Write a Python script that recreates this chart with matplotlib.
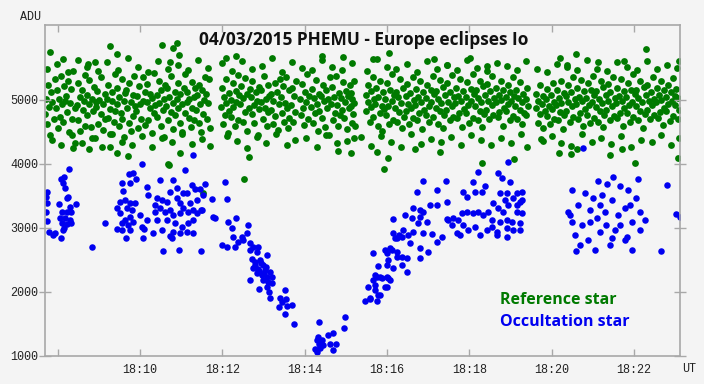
import matplotlib
matplotlib.use("Agg")
from matplotlib import pyplot as plt

# time in minutes after 18:00 UT, flux in ADU
ref_t = [
    7.70, 7.72, 7.74, 7.76, 7.79, 7.81, 7.84, 7.87, 7.90, 7.93,
    7.96, 7.98, 8.01, 8.03, 8.06, 8.08, 8.11, 8.13, 8.16, 8.18,
    8.21, 8.23, 8.25, 8.28, 8.30, 8.33, 8.35, 8.38, 8.41, 8.43,
    8.46, 8.48, 8.50, 8.53, 8.55, 8.58, 8.61, 8.63, 8.65, 8.67,
    8.70, 8.72, 8.75, 8.77, 8.80, 8.82, 8.85, 8.87, 8.90, 8.92,
    8.94, 8.96, 8.99, 9.01, 9.04, 9.06, 9.09, 9.11, 9.14, 9.16,
    9.19, 9.21, 9.23, 9.26, 9.28, 9.31, 9.33, 9.36, 9.38, 9.40,
    9.43, 9.45, 9.48, 9.50, 9.53, 9.55, 9.57, 9.60, 9.62, 9.64,
    9.67, 9.69, 9.72, 9.74, 9.77, 9.79, 9.82, 9.84, 9.86, 9.88,
    9.91, 9.93, 9.96, 9.98, 10.01, 10.03, 10.06, 10.08, 10.11, 10.13,
    10.16, 10.18, 10.20, 10.23, 10.25, 10.28, 10.30, 10.33, 10.35, 10.37,
    10.40, 10.42, 10.45, 10.47, 10.50, 10.52, 10.55, 10.57, 10.59, 10.61,
    10.64, 10.66, 10.69, 10.71, 10.74, 10.76, 10.79, 10.81, 10.84, 10.86,
    10.89, 10.91, 10.93, 10.96, 10.98, 11.01, 11.03, 11.06, 11.08, 11.10,
    11.13, 11.15, 11.18, 11.20, 11.23, 11.25, 11.27, 11.30, 11.32, 11.34,
    11.37, 11.39, 11.42, 11.44, 11.46, 11.49, 11.51, 11.54, 11.56, 11.58,
    11.61, 11.63, 11.66, 11.68, 11.71,
    11.96, 11.98, 12.01, 12.03, 12.06, 12.08, 12.10, 12.13, 12.15, 12.17,
    12.20, 12.22, 12.25, 12.27, 12.30, 12.32, 12.34, 12.37, 12.39, 12.41,
    12.44, 12.46, 12.49, 12.51, 12.54, 12.56, 12.59, 12.61, 12.64, 12.66,
    12.69, 12.71, 12.73, 12.76, 12.78, 12.81, 12.83, 12.86, 12.88, 12.90,
    12.93, 12.95, 12.98, 13.00, 13.03, 13.05, 13.08, 13.10, 13.12, 13.14,
    13.17, 13.19, 13.22, 13.24, 13.27, 13.29, 13.32, 13.34, 13.37, 13.39,
    13.42, 13.44, 13.47, 13.49, 13.51, 13.54, 13.56, 13.59, 13.61, 13.63,
    13.66, 13.68, 13.71, 13.73, 13.76, 13.78,
    13.89, 13.91, 13.94, 13.96, 13.99, 14.01, 14.04, 14.06, 14.09, 14.11,
    14.15, 14.17, 14.20, 14.22, 14.25, 14.27, 14.29, 14.32, 14.34, 14.36,
    14.39, 14.41, 14.44, 14.46, 14.49, 14.51, 14.54, 14.56, 14.59, 14.61,
    14.64, 14.66, 14.68, 14.71, 14.73, 14.76, 14.78, 14.81, 14.83, 14.85,
    14.88, 14.90, 14.93, 14.95, 14.98, 15.00, 15.03, 15.05, 15.07, 15.09,
    15.12, 15.13, 15.15, 15.16, 15.18, 15.19, 15.21, 15.23,
    15.48, 15.50, 15.53, 15.55, 15.58, 15.60, 15.62, 15.65, 15.67, 15.69,
    15.72, 15.74, 15.77, 15.79, 15.82, 15.84, 15.87, 15.89, 15.91, 15.93,
    15.96, 15.98, 16.01, 16.03, 16.06, 16.08, 16.11, 16.13, 16.15, 16.17,
    16.20, 16.22, 16.25, 16.27, 16.30, 16.32, 16.34, 16.37, 16.39, 16.42,
    16.45, 16.47, 16.49, 16.52, 16.54, 16.57, 16.59, 16.62, 16.64, 16.66,
    16.69, 16.71, 16.74, 16.76, 16.79, 16.81, 16.83, 16.86, 16.88, 16.91,
    16.94, 16.96, 16.98, 17.01, 17.03, 17.06, 17.08, 17.11, 17.13, 17.15,
    17.18, 17.20, 17.23, 17.25, 17.28, 17.30, 17.32, 17.35, 17.37, 17.39,
    17.42, 17.44, 17.47, 17.49, 17.52, 17.54, 17.57, 17.59, 17.61, 17.63,
    17.66, 17.68, 17.71, 17.73, 17.76, 17.78, 17.80, 17.83, 17.85, 17.88,
    17.91, 17.93, 17.95, 17.98, 18.00, 18.03, 18.05, 18.08, 18.10, 18.12,
    18.15, 18.17, 18.20, 18.22, 18.25, 18.27, 18.29, 18.32, 18.34, 18.36,
    18.39, 18.41, 18.44, 18.46, 18.49, 18.51, 18.54, 18.56, 18.58, 18.61,
    18.64, 18.66, 18.69, 18.71, 18.73, 18.76, 18.78, 18.81, 18.83, 18.85,
    18.88, 18.90, 18.93, 18.95, 18.98, 19.00, 19.02, 19.05, 19.07, 19.09,
    19.12, 19.14, 19.17, 19.19, 19.22, 19.24, 19.27, 19.29, 19.31, 19.34,
    19.37, 19.38, 19.40, 19.42,
    19.61, 19.63, 19.66, 19.68, 19.71, 19.73, 19.76, 19.78, 19.80, 19.83,
    19.86, 19.88, 19.90, 19.93, 19.95, 19.98, 20.00, 20.03, 20.05, 20.07,
    20.10, 20.12, 20.15, 20.17, 20.20, 20.22, 20.24, 20.27, 20.29, 20.31,
    20.34, 20.36, 20.39, 20.41, 20.44, 20.46, 20.49, 20.51, 20.53, 20.56,
    20.59, 20.61, 20.63, 20.66, 20.68, 20.71, 20.73, 20.76, 20.78, 20.80,
    20.83, 20.85, 20.88, 20.90, 20.93, 20.95, 20.97, 21.00, 21.02, 21.04,
    21.07, 21.09, 21.12, 21.14, 21.17, 21.19, 21.22, 21.24, 21.26, 21.28,
    21.31, 21.33, 21.36, 21.38, 21.41, 21.43, 21.46, 21.48, 21.51, 21.53,
    21.56, 21.58, 21.60, 21.63, 21.65, 21.68, 21.70, 21.73, 21.75, 21.77,
    21.80, 21.82, 21.85, 21.87, 21.90, 21.92, 21.95, 21.97, 21.99, 22.02,
    22.04, 22.06, 22.09, 22.11, 22.14, 22.16, 22.19, 22.21, 22.24, 22.26,
    22.29, 22.31, 22.33, 22.36, 22.38, 22.41, 22.43, 22.46, 22.48, 22.50,
    22.53, 22.55, 22.58, 22.60, 22.63, 22.65, 22.67, 22.70, 22.72, 22.74,
    22.77, 22.79, 22.82, 22.84, 22.87, 22.89, 22.92, 22.94, 22.96, 22.99,
    23.01, 23.03, 23.06, 23.08, 23.10,
    # upper edge of the band
    7.75, 7.98, 8.24, 8.49, 8.71, 8.97, 9.20, 9.46, 9.70, 9.94,
    10.19, 10.43, 10.67, 10.92, 11.16, 11.40, 11.64, 12.00, 12.24, 12.48,
    12.72, 12.96, 13.20, 13.45, 13.70, 13.93, 14.18, 14.42, 14.67, 14.91,
    15.14, 15.51, 15.75, 15.99, 16.23, 16.48, 16.72, 16.97, 17.21, 17.45,
    17.69, 17.94, 18.18, 18.42, 18.67, 18.91, 19.15, 19.39, 19.64, 19.89,
    20.13, 20.37, 20.62, 20.86, 21.10, 21.34, 21.58, 21.83, 22.07, 22.32,
    22.56, 22.80, 23.04,
    # lower edge of the band
    7.86, 8.09, 8.35, 8.60, 8.82, 9.08, 9.31, 9.57, 9.81, 10.05,
    10.30, 10.54, 10.78, 11.03, 11.27, 11.51, 11.70, 12.11, 12.35, 12.59,
    12.83, 13.07, 13.31, 13.56, 13.77, 14.04, 14.29, 14.53, 14.78, 15.02,
    15.20, 15.62, 15.86, 16.10, 16.34, 16.59, 16.83, 17.08, 17.32, 17.56,
    17.80, 18.05, 18.29, 18.53, 18.78, 19.02, 19.26, 19.41, 19.75, 20.00,
    20.24, 20.48, 20.73, 20.97, 21.21, 21.45, 21.69, 21.94, 22.18, 22.43,
    22.67, 22.91, 23.09,
    # stragglers above and below the band
    7.81, 8.13, 8.74, 8.91, 9.27, 9.44, 10.53, 10.73, 10.80, 10.90,
    10.95, 12.09, 12.33, 14.42, 14.93, 15.66, 16.05, 17.14, 17.46, 18.02,
    18.43, 20.21, 20.38, 20.60, 21.13, 21.76, 22.30, 23.10,
    8.37, 8.76, 9.27, 9.44, 9.71, 10.68, 10.70, 10.97, 11.53, 12.53,
    12.65, 14.81, 15.13, 15.37, 15.76, 15.93, 16.03, 16.68, 17.29, 18.31,
    19.09, 19.79, 20.18, 20.47, 20.62, 21.42, 21.71, 22.03, 23.07,
]
ref_adu = [
    4780, 5010, 4620, 5240, 4890, 4450, 5120, 4960, 4700, 5330,
    4870, 5150, 4560, 5020, 4740, 5380, 4930, 4650, 5210, 4990,
    5060, 4810, 5290, 4500, 4950, 5170, 4700, 5450, 4880, 4330,
    4920, 5270, 4680, 5040, 4520, 5160, 4850, 4990, 5390, 4600,
    5080, 4760, 4940, 5310, 4580, 5020, 4830, 5200, 4410, 4970,
    4890, 5140, 4620, 5000, 4780, 5360, 4940, 4530, 5090, 4700,
    5010, 4720, 5230, 4860, 4470, 5120, 4980, 4650, 5400, 4830,
    4940, 5190, 4590, 5050, 4800, 5320, 4700, 4990, 4420, 5110,
    5150, 4880, 4640, 5270, 4960, 4510, 5080, 4750, 5380, 4910,
    4820, 5060, 4560, 5210, 4930, 4700, 5350, 4990, 4610, 5120,
    4970, 5250, 4680, 4870, 5100, 4490, 5030, 4790, 5420, 4920,
    5080, 4730, 4950, 5300, 4600, 5160, 4850, 5010, 4420, 5230,
    4900, 5190, 4680, 5040, 4810, 5370, 4950, 4550, 5120, 4760,
    5020, 4870, 5260, 4640, 5090, 4930, 4500, 5180, 4800, 5400,
    4960, 5130, 4720, 5010, 4580, 5280, 4880, 5050, 4690, 5190,
    4850, 5070, 4640, 5240, 4930, 4500, 5150, 4780, 5000, 5350,
    5100, 4700, 4950, 5320, 4560,
    4890, 5180, 4620, 5050, 4770, 5330, 4950, 4480, 5110, 4830,
    5000, 4740, 5260, 4890, 4590, 5140, 4960, 5390, 4680, 5070,
    4930, 5210, 4660, 5030, 4810, 5340, 4510, 5090, 4870, 5170,
    5050, 4780, 5290, 4920, 4640, 5120, 4990, 4450, 5200, 4860,
    4970, 5150, 4700, 5380, 4880, 5020, 4590, 5230, 4810, 5060,
    4840, 5100, 4620, 4990, 5270, 4750, 5130, 4530, 4930, 5330,
    5040, 4790, 5220, 4660, 4950, 5360, 4870, 4560, 5150, 4720,
    4920, 5180, 4650, 5060, 4810, 5290,
    5010, 4760, 5250, 4880, 4610, 5120, 4970, 5400, 4700, 5060,
    4890, 5170, 4640, 5030, 4790, 5310, 4940, 4520, 5100, 4830,
    5060, 4720, 5240, 4980, 4580, 5150, 4870, 5020, 4450, 5350,
    4930, 5200, 4690, 5050, 4800, 5370, 4920, 4600, 5110, 4760,
    5030, 4850, 5280, 4710, 4960, 5140, 4540, 5060, 4880, 5230,
    4900, 5110, 4640, 5020, 4780, 5300, 4950, 4600,
    5080, 4820, 5230, 4960, 4650, 5140, 4890, 5360, 4730, 5010,
    4940, 5190, 4600, 5050, 4800, 5300, 4910, 4520, 5120, 4860,
    5020, 4760, 5270, 4900, 4630, 5150, 4990, 5400, 4690, 5080,
    4870, 5130, 4660, 5040, 4810, 5330, 4950, 4560, 5190, 4740,
    5060, 4830, 5250, 4940, 4620, 5110, 4880, 5360, 4710, 5000,
    4920, 5170, 4680, 5050, 4790, 5290, 4970, 4540, 5120, 4850,
    5030, 4770, 5240, 4900, 4650, 5160, 4960, 5380, 4730, 5090,
    4880, 5140, 4620, 5020, 4820, 5310, 4950, 4560, 5200, 4760,
    5070, 4840, 5260, 4970, 4690, 5130, 4910, 5390, 4740, 5040,
    4950, 5180, 4710, 5060, 4800, 5320, 4990, 4580, 5140, 4860,
    5040, 4790, 5280, 4920, 4640, 5170, 4980, 5410, 4720, 5090,
    4900, 5150, 4690, 5030, 4830, 5300, 4960, 4570, 5210, 4780,
    5080, 4850, 5250, 4990, 4700, 5140, 4920, 5370, 4760, 5030,
    4960, 5190, 4730, 5070, 4810, 5290, 5000, 4600, 5160, 4880,
    5050, 4820, 5230, 4940, 4680, 5120, 4990, 5350, 4750, 5060,
    4910, 5160, 4700, 5030, 4850, 5280, 4970, 4620, 5100, 4790,
    5020, 4760, 5180, 4900,
    4880, 5100, 4640, 4990, 4780, 5230, 4930, 4560, 5060, 4820,
    5010, 4750, 5170, 4900, 4620, 5080, 4860, 5260, 4700, 4970,
    4920, 5150, 4680, 5030, 4810, 5290, 4950, 4540, 5110, 4770,
    5060, 4830, 5240, 4970, 4660, 5130, 4900, 5350, 4730, 5010,
    4940, 5190, 4700, 5050, 4800, 5310, 4980, 4590, 5140, 4860,
    5030, 4770, 5260, 4920, 4640, 5150, 4960, 5380, 4720, 5080,
    4890, 5140, 4650, 5020, 4830, 5300, 4950, 4580, 5200, 4760,
    5070, 4840, 5250, 4980, 4690, 5120, 4910, 5360, 4750, 5030,
    4950, 5180, 4710, 5060, 4800, 5320, 4990, 4600, 5140, 4870,
    5040, 4790, 5270, 4920, 4650, 5160, 4970, 5400, 4730, 5090,
    4900, 5150, 4680, 5030, 4820, 5290, 4960, 4560, 5200, 4780,
    5080, 4850, 5240, 4990, 4700, 5130, 4920, 5360, 4760, 5020,
    4960, 5190, 4720, 5070, 4810, 5300, 5000, 4610, 5160, 4880,
    5050, 4820, 5230, 4940, 4670, 5120, 4990, 5340, 4750, 5060,
    4920, 5170, 4700, 5030, 4850,
    5480, 5560, 5430, 5620, 5510, 5450, 5590, 5470, 5650, 5520,
    5440, 5600, 5490, 5540, 5460, 5630, 5500, 5570, 5450, 5610,
    5480, 5530, 5660, 5440, 5590, 5500, 5460, 5620, 5520, 5470,
    5580, 5450, 5640, 5510, 5480, 5560, 5430, 5600, 5490, 5540,
    5470, 5620, 5500, 5450, 5580, 5530, 5460, 5610, 5480, 5440,
    5560, 5510, 5470, 5630, 5490, 5450, 5590, 5520, 5460, 5600,
    5480, 5540, 5500,
    4380, 4290, 4450, 4320, 4410, 4260, 4470, 4350, 4300, 4430,
    4270, 4400, 4340, 4460, 4310, 4390, 4280, 4440, 4360, 4250,
    4420, 4330, 4470, 4290, 4380, 4410, 4270, 4450, 4320, 4360,
    4400, 4280, 4430, 4350, 4260, 4460, 4310, 4390, 4340, 4420,
    4290, 4450, 4370, 4300, 4410, 4330, 4470, 4260, 4390, 4440,
    4320, 4280, 4460, 4350, 4400, 4310, 4430, 4270, 4380, 4340,
    4450, 4300, 4410,
    5750, 5640, 5560, 5590, 5840, 5720, 5860, 5590, 5810, 5890,
    5700, 5660, 5690, 5690, 5670, 5640, 5730, 5640, 5550, 5660,
    5530, 5660, 5550, 5720, 5590, 5600, 5800, 5600,
    4250, 4235, 4265, 4170, 4125, 4000, 3985, 4170, 3550, 3766,
    4110, 4200, 4170, 4420, 4190, 3920, 4100, 4240, 4190, 4015,
    4080, 4360, 4170, 4160, 4230, 4140, 4230, 4015, 4090,
]

occ_t = [
    7.72, 7.74, 7.74, 7.72, 7.74, 7.79, 7.89, 7.93, 8.08, 8.13,
    8.27, 8.15, 8.08, 8.13, 8.18, 8.25, 8.23, 8.03, 8.30, 8.44,
    8.10, 8.23, 8.32, 8.06, 8.18, 8.30, 8.10, 8.23, 8.32, 8.15,
    8.83, 9.15,
    10.05, 11.09, 11.29, 9.73, 9.83, 9.90, 9.76, 9.56, 9.59, 10.17,
    10.49, 10.80, 10.90, 11.26, 11.34, 11.58, 11.46, 10.19, 10.73, 11.04,
    11.14, 10.41, 10.53, 10.66, 10.90, 10.97, 11.22, 11.39, 11.75, 9.51,
    9.64, 9.76, 9.88, 9.44, 9.68, 9.81, 10.00, 10.36, 10.49, 10.36,
    10.61, 10.73, 10.80, 10.97, 11.04, 11.17, 11.29, 11.39, 11.51, 11.77,
    11.82, 9.51, 9.64, 9.76, 9.56, 9.71, 9.83, 10.17, 10.41, 10.66,
    10.85, 11.02, 11.17, 11.29, 9.44, 9.56, 9.76, 10.05, 10.10, 10.32,
    10.53, 10.80, 10.97, 11.14, 11.29, 10.73, 10.78, 9.66, 10.07, 10.56,
    10.95, 11.48,
    12.07, 11.53, 12.11, 11.48, 12.14, 12.33, 12.24, 12.62, 12.60, 12.50,
    12.38, 12.26, 12.48, 12.67, 12.31, 11.99, 12.11, 12.67, 12.75, 12.87,
    12.84, 13.09, 12.72, 12.79, 12.92, 12.99, 12.75, 12.87, 13.04, 13.16,
    12.96, 13.09, 13.21, 12.67, 12.99, 13.11, 13.21, 13.09, 12.89, 13.13,
    13.52, 13.16, 13.40, 13.55, 13.45, 13.69, 13.57, 13.38, 13.52, 13.74,
    12.80, 12.90, 12.95, 13.02, 12.85, 13.06,
    14.35, 14.98, 14.96, 14.69, 14.57, 14.33, 14.30, 14.42, 14.35, 14.45,
    14.62, 14.76, 14.25, 14.37, 14.69, 14.30,
    16.15, 16.15, 16.20, 16.29, 15.66, 15.78, 16.00, 16.12, 16.03, 16.25,
    15.66, 15.76, 15.88, 16.00, 16.08, 15.54, 15.71, 16.00, 15.83, 15.47,
    15.59, 15.76,
    16.88, 16.73, 17.22, 17.46, 17.05, 17.22, 16.63, 16.80, 16.88, 16.44,
    16.61, 16.80, 16.97, 16.76, 17.46, 17.58, 16.39, 16.63, 16.88, 17.10,
    17.34, 16.25, 16.37, 16.51, 16.56, 16.80, 17.00, 17.22, 16.08, 15.95,
    16.25, 16.37, 16.49, 16.80, 16.00, 16.15, 16.37, 16.49, 15.71, 15.83,
    16.03, 15.71, 15.95, 15.78, 15.59,
    18.94, 18.70, 18.80, 18.99, 18.21, 18.09, 18.38, 18.14, 17.85, 17.95,
    18.31, 18.75, 18.92, 19.16, 19.28, 18.87, 19.06, 19.23, 18.94, 19.16,
    19.28, 18.58, 18.70, 18.82, 19.16, 19.28, 17.82, 17.95, 18.09, 18.21,
    18.34, 18.46, 18.55, 18.75, 18.92, 19.04, 19.23, 17.61, 17.73, 17.85,
    17.97, 18.14, 18.43, 18.55, 18.68, 18.92, 19.06, 19.23, 18.26, 18.92,
    18.68, 17.78, 17.70, 17.48, 17.44,
    20.77, 20.60, 21.49, 22.10, 22.66, 21.13, 21.35, 21.66, 20.50, 20.81,
    21.86, 22.05, 20.40, 20.64, 20.94, 21.18, 21.47, 21.79, 22.15, 20.50,
    20.74, 21.11, 21.32, 21.61, 21.96, 22.27, 20.57, 20.89, 21.18, 21.54,
    21.83, 22.15, 20.69, 21.06, 21.42, 21.79, 21.96, 20.45, 21.01, 21.30,
    21.66, 20.94, 21.47, 21.23, 21.91,
    22.81, 23.03, 23.12,
]
occ_adu = [
    3480, 3560, 3390, 3250, 3110, 2940, 2890, 2920, 2840, 2970,
    3920, 3800, 3770, 3700, 3620, 3480, 3470, 3380, 3330, 3380,
    3250, 3250, 3250, 3160, 3160, 3120, 3080, 3060, 3080, 3000,
    2700, 3080,
    4000, 3910, 4140, 3840, 3860, 3770, 3700, 3700, 3580, 3640,
    3750, 3750, 3620, 3670, 3610, 3690, 3610, 3520, 3560, 3550,
    3550, 3470, 3440, 3410, 3470, 3390, 3390, 3440, 3450, 3410,
    3440, 3390, 3390, 3310, 3310, 3280, 3200, 3360, 3310, 3250,
    3250, 3280, 3200, 3230, 3310, 3250, 3280, 3230, 3280, 3170,
    3160, 3230, 3120, 3170, 3080, 3050, 3090, 3120, 3120, 3120,
    3080, 3020, 3080, 3120, 2980, 2970, 2970, 3020, 2980, 2920,
    2970, 2940, 2920, 2940, 2920, 2880, 2840, 2840, 2840, 2640,
    2660, 2640,
    3720, 3520, 3450, 3280, 3090, 3160, 3000, 3050, 2920, 2810,
    2780, 2860, 2860, 2770, 2700, 2730, 2700, 2660, 2700, 2700,
    2620, 2580, 2520, 2470, 2500, 2420, 2380, 2360, 2340, 2310,
    2270, 2230, 2230, 2190, 2190, 2160, 2140, 2080, 2050, 2000,
    2030, 1910, 1910, 1890, 1840, 1800, 1780, 1770, 1660, 1500,
    2420, 2330, 2450, 2290, 2290, 2390,
    1530, 1610, 1440, 1360, 1330, 1300, 1250, 1250, 1190, 1170,
    1190, 1190, 1110, 1130, 1090, 1060,
    3140, 2920, 2840, 2890, 2610, 2410, 2610, 2660, 2500, 2550,
    2190, 2230, 2220, 2230, 2190, 2080, 2030, 2080, 1950, 1860,
    1890, 1860,
    3730, 3560, 3590, 3410, 3360, 3360, 3310, 3280, 3250, 3200,
    3160, 3170, 3090, 3080, 3140, 3050, 2970, 2940, 2920, 2910,
    2860, 2840, 2860, 2890, 2770, 2690, 2620, 2780, 2690, 2660,
    2620, 2550, 2530, 2530, 2420, 2380, 2420, 2310, 2270, 2230,
    2220, 2110, 2080, 1950, 1910,
    4030, 3860, 3780, 3720, 3880, 3720, 3660, 3560, 3560, 3480,
    3560, 3550, 3550, 3550, 3560, 3440, 3470, 3410, 3360, 3360,
    3440, 3390, 3310, 3250, 3250, 3230, 3230, 3250, 3230, 3250,
    3200, 3250, 3120, 3090, 3120, 3090, 3080, 3160, 3120, 3050,
    2970, 3020, 2970, 3020, 2940, 3000, 2970, 2970, 2890, 2860,
    2890, 2890, 2920, 3120, 3730,
    4250, 2640, 3800, 3770, 2640, 3730, 3690, 3660, 3590, 3550,
    3590, 3470, 3250, 3360, 3280, 3360, 3440, 3310, 3250, 3090,
    3050, 3160, 3050, 3200, 3090, 3120, 2890, 2810, 2940, 2970,
    2860, 2970, 2730, 2660, 2730, 2810, 2660, 3200, 3470, 3250,
    3050, 3090, 2840, 3520, 3360,
    3670, 3220, 3170,
]

x_ticks = [8, 10, 12, 14, 16, 18, 20, 22]
x_labels = ["", "18:10", "18:12", "18:14", "18:16", "18:18", "18:20", "18:22"]
y_ticks = [1000, 2000, 3000, 4000, 5000]

bg = "#f4f4f4"
grey = "#a8a8a8"
green = "#007a00"
blue = "#0000f0"

fig = plt.figure(figsize=(7.04, 3.84), dpi=100, facecolor=bg)
ax = fig.add_axes([45 / 704, 1 - 356 / 384, 635 / 704, 331 / 384])
ax.set_facecolor(bg)

ax.scatter(ref_t, ref_adu, s=24, color=green, linewidths=0)
ax.scatter(occ_t, occ_adu, s=22, color=blue, linewidths=0)

ax.set_xlim(7.69, 23.12)
ax.set_ylim(1000, 6170)

for sp in ax.spines.values():
    sp.set_color(grey)
    sp.set_linewidth(1.2)

mono = "Liberation Mono"
ax.set_xticks(x_ticks)
ax.set_xticklabels(x_labels, fontfamily=mono, fontsize=8.5, color="#222222")
ax.set_yticks(y_ticks)
ax.set_yticklabels([str(v) for v in y_ticks], fontfamily=mono, fontsize=8.5, color="#222222")
ax.tick_params(axis="x", direction="in", length=5, width=1, color=grey, top=True, pad=6)
ax.tick_params(axis="y", direction="inout", length=8, width=1, color=grey, right=True, pad=1)

fig.text(31 / 704, 1 - 17 / 384, "ADU", fontfamily=mono, fontsize=8.5, color="#222222",
         ha="center", va="center")
fig.text(689 / 704, 1 - 369 / 384, "UT", fontfamily=mono, fontsize=8.5, color="#222222",
         ha="center", va="center")

ax.text(0.502, 0.955, "04/03/2015 PHEMU - Europe eclipses Io", transform=ax.transAxes,
        fontfamily="Open Sans", fontweight="bold", fontsize=12.5, color="#111111",
        ha="center", va="center")
ax.text(0.717, 0.169, "Reference star", transform=ax.transAxes, fontfamily="Open Sans",
        fontweight="bold", fontsize=11.5, color=green, ha="left", va="center")
ax.text(0.717, 0.102, "Occultation star", transform=ax.transAxes, fontfamily="Open Sans",
        fontweight="bold", fontsize=11.5, color=blue, ha="left", va="center")

fig.savefig("out.png", dpi=100, facecolor=bg)
